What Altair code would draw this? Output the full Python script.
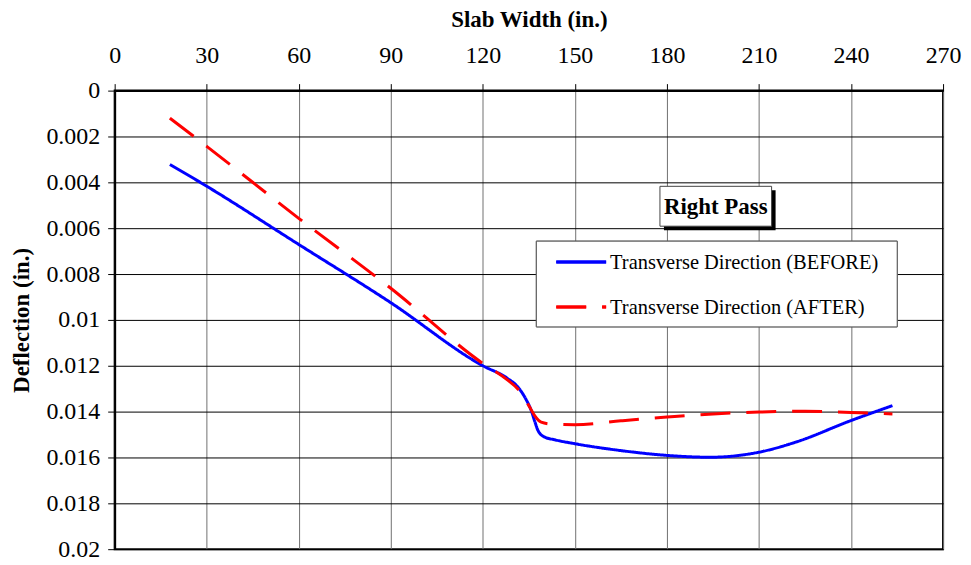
import altair as alt
import pandas as pd

series = ["Transverse Direction (BEFORE)", "Transverse Direction (AFTER)"]
colors = ["#0000FF", "#FF0000"]

before_x = [18, 30, 60, 90, 120, 128, 131.5, 134, 135.8, 137, 138, 140, 143.5, 150, 165, 180, 194, 210, 222, 240, 253.5]
before_y = [0.00322, 0.00417, 0.00671, 0.00925, 0.0120, 0.01255, 0.01294, 0.01345, 0.01396, 0.01446, 0.01483,
            0.01510, 0.01523, 0.0154, 0.0157, 0.01591, 0.01599, 0.01577, 0.01533, 0.01439, 0.01374]

after_x = [18, 30, 60, 90, 120, 128, 132, 135.3, 137, 139, 143, 150, 165, 180, 195, 210, 225, 240, 253.5]
after_y = [0.0012, 0.00243, 0.00557, 0.00862, 0.0119, 0.01262, 0.0131, 0.01381, 0.0142, 0.01446, 0.01455,
           0.01457, 0.0144, 0.01424, 0.0141, 0.01402, 0.01398, 0.01404, 0.0141]

x_ticks = [0, 30, 60, 90, 120, 150, 180, 210, 240, 270]
y_ticks = [0, 0.002, 0.004, 0.006, 0.008, 0.01, 0.012, 0.014, 0.016, 0.018, 0.02]

df = pd.concat([
    pd.DataFrame({"x": before_x, "y": before_y, "s": series[0], "o": list(range(len(before_x)))}),
    pd.DataFrame({"x": after_x, "y": after_y, "s": series[1], "o": list(range(len(after_x)))}),
])

FONT = "Liberation Serif"

lines = alt.Chart(df).mark_line(strokeWidth=3, interpolate="monotone").encode(
    x=alt.X("x:Q", scale=alt.Scale(domain=[0, 270], nice=False),
            axis=alt.Axis(orient="top", values=x_ticks, title="Slab Width (in.)", labelFlush=False,
                          gridColor="#707070", gridWidth=1, labelPadding=16, titlePadding=12)),
    y=alt.Y("y:Q", scale=alt.Scale(domain=[0, 0.02], reverse=True, nice=False),
            axis=alt.Axis(values=y_ticks, title="Deflection (in.)", labelExpr="datum.value + ''",
                          labelFlush=False, gridColor="black", gridWidth=1, labelPadding=8,
                          titlePadding=12)),
    color=alt.Color("s:N", scale=alt.Scale(domain=series, range=colors), legend=None),
    strokeDash=alt.StrokeDash("s:N", scale=alt.Scale(domain=series, range=[[1, 0], [30, 16]]),
                              legend=None),
    order="o:Q",
)

# legend (drawn as decoration)
leg_df = pd.DataFrame({"s": series})
leg_box = alt.Chart(leg_df).mark_rect(fill="white", stroke="#555555", strokeWidth=1).encode(
    x=alt.value(423), x2=alt.value(785), y=alt.value(151), y2=alt.value(237))
leg_blue = alt.Chart(leg_df).mark_rule(color=colors[0], strokeWidth=3).encode(
    x=alt.value(443), x2=alt.value(493), y=alt.value(172))
leg_red = alt.Chart(leg_df).mark_rule(color=colors[1], strokeWidth=3, strokeDash=[30, 16]).encode(
    x=alt.value(443), x2=alt.value(493), y=alt.value(217))
leg_t1 = alt.Chart(pd.DataFrame({"t": [series[0]]})).mark_text(
    font=FONT, fontSize=20.5, color="black", align="left", baseline="middle").encode(
    x=alt.value(497), y=alt.value(173), text="t:N")
leg_t2 = alt.Chart(pd.DataFrame({"t": [series[1]]})).mark_text(
    font=FONT, fontSize=20.5, color="black", align="left", baseline="middle").encode(
    x=alt.value(497), y=alt.value(218), text="t:N")

label_df = pd.DataFrame({"t": ["Right Pass"]})
shadow = alt.Chart(label_df).mark_rect(color="black").encode(
    x=alt.value(551), x2=alt.value(663), y=alt.value(100), y2=alt.value(140))
box = alt.Chart(label_df).mark_rect(fill="white", stroke="#444444", strokeWidth=1).encode(
    x=alt.value(547), x2=alt.value(659), y=alt.value(96), y2=alt.value(136))
txt = alt.Chart(label_df).mark_text(font=FONT, fontSize=23, fontWeight="bold", color="black",
                                    align="center", baseline="middle").encode(
    x=alt.value(603), y=alt.value(117), text="t:N")

chart = alt.layer(lines, leg_box, leg_blue, leg_red, leg_t1, leg_t2, shadow, box, txt).properties(
    width=831, height=460,
    autosize=alt.AutoSizeParams(type="none"),
    padding={"left": 107, "top": 82, "right": 20, "bottom": 17},
).configure_view(stroke="black", strokeWidth=2).configure_axis(
    labelFont=FONT, labelFontSize=24, labelColor="black",
    titleFont=FONT, titleFontSize=23, titleFontWeight="bold", titleColor="black",
    domainColor="black", domainWidth=2, tickColor="black", tickSize=7, tickWidth=1,
)

chart.save("out.html", embed_options={"renderer": "svg", "actions": False})
